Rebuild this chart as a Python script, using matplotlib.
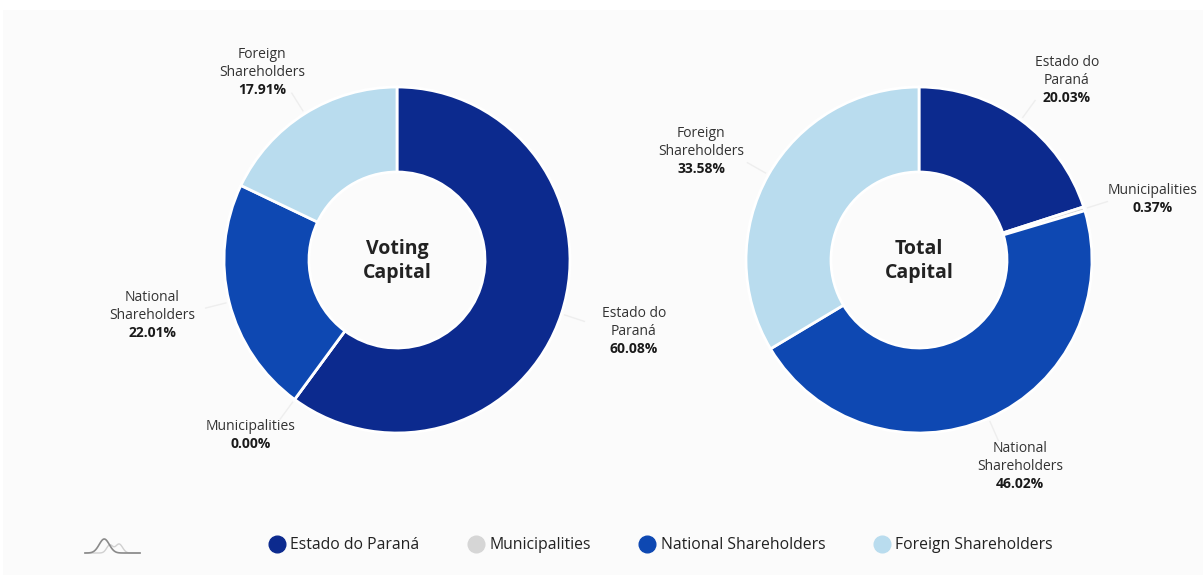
import numpy as np
import matplotlib
matplotlib.use("Agg")
import matplotlib.pyplot as plt
from matplotlib.lines import Line2D
from matplotlib.patches import Rectangle

plt.rcParams['font.family'] = ['Open Sans', 'DejaVu Sans']

# ---- data ----
categories = ["Estado do Paraná", "Municipalities", "National Shareholders", "Foreign Shareholders"]
label_names = ["Estado do\nParaná", "Municipalities", "National\nShareholders", "Foreign\nShareholders"]
voting_capital = [60.08, 0.00, 22.01, 17.91]
total_capital = [20.03, 0.37, 46.02, 33.58]
chart_titles = ["Voting\nCapital", "Total\nCapital"]

# ---- style / layout ----
colors = ["#0c2a8e", "#d6d6d6", "#0e48b2", "#b9dcee"]
W, H = 1203, 578
centers_px = [(397, 260), (919, 260)]
R_OUT, R_IN = 173, 88
# label distance (in radii) and angular nudge (deg) per label
label_factor = [[1.428, 1.313, 1.450, 1.343], [1.351, 1.400, 1.321, 1.411]]
label_nudge = [[1.7, -3.7, -1.7, 3.3], [-3.2, -2.3, 2.5, 2.8]]
LINE = 18

fig = plt.figure(figsize=(W / 100, H / 100), dpi=100)
fig.patch.set_facecolor("white")
ax = fig.add_axes([0, 0, 1, 1])
ax.set_axis_off()
ax.add_patch(Rectangle((3, H - 575), W - 3, 565, facecolor="#fbfbfb", edgecolor="none", zorder=0))

def Y(py):
    return H - py

for ci, (vals, title) in enumerate(zip([voting_capital, total_capital], chart_titles)):
    cx, cy = centers_px[ci]
    ax.pie(vals, colors=colors, startangle=90, counterclock=False,
           radius=R_OUT, center=(cx, Y(cy)), normalize=True,
           wedgeprops=dict(width=R_OUT - R_IN, edgecolor="white", linewidth=2))
    ax.text(cx, Y(cy + 1), title, ha="center", va="center", fontsize=14,
            fontweight="bold", color="#222222", linespacing=1.3)
    total = sum(vals)
    cum = 0.0
    for i, v in enumerate(vals):
        mid = cum + v / 2.0
        cum += v
        ang = np.deg2rad(90 - 360.0 * mid / total)
        dx, dy = np.cos(ang), np.sin(ang)
        # leader line
        ax.plot([cx + dx * R_OUT * 1.02, cx + dx * R_OUT * 1.14],
                [Y(cy) + dy * R_OUT * 1.02, Y(cy) + dy * R_OUT * 1.14],
                color="#eeeeee", lw=1, zorder=1)
        la = ang + np.deg2rad(label_nudge[ci][i])
        f = label_factor[ci][i]
        lx = cx + np.cos(la) * R_OUT * f
        ly_px = cy - np.sin(la) * R_OUT * f
        name = label_names[i]
        nlines = name.count("\n") + 2
        top = ly_px - (nlines - 1) * LINE / 2.0 - 6
        ax.text(lx, Y(top), name, ha="center", va="top", fontsize=10,
                color="#333333", linespacing=1.28)
        ax.text(lx, Y(top + (nlines - 1) * LINE), f"{vals[i]:.2f}%", ha="center",
                va="top", fontsize=10, fontweight="bold", color="#1a1a1a")

# small logo icon
t = np.linspace(0, 1, 100)
ix = 85 + 55 * t
iy1 = 14 * np.exp(-((t - 0.35) / 0.13) ** 2)
iy2 = 9 * np.exp(-((t - 0.62) / 0.09) ** 2) + 8 * np.exp(-((t - 0.45) / 0.08) ** 2)
ax.plot(ix, Y(553) + iy2, color="#d0d0d0", lw=1)
ax.plot(ix, Y(553) + iy1, color="#8a8a8a", lw=1.2)

handles = [Line2D([0], [0], marker="o", linestyle="none", markersize=12,
                  markerfacecolor=c, markeredgecolor=c) for c in colors]
leg = ax.legend(handles, categories, loc="center", bbox_to_anchor=(661 / W, 1 - 545 / H),
                ncol=4, frameon=False, fontsize=11.3, handletextpad=0.35,
                columnspacing=3.1, handlelength=1.0, labelcolor="#222222")

ax.set_xlim(0, W)
ax.set_ylim(0, H)
ax.set_aspect("equal")
fig.savefig("out.png", dpi=100, facecolor="white")
